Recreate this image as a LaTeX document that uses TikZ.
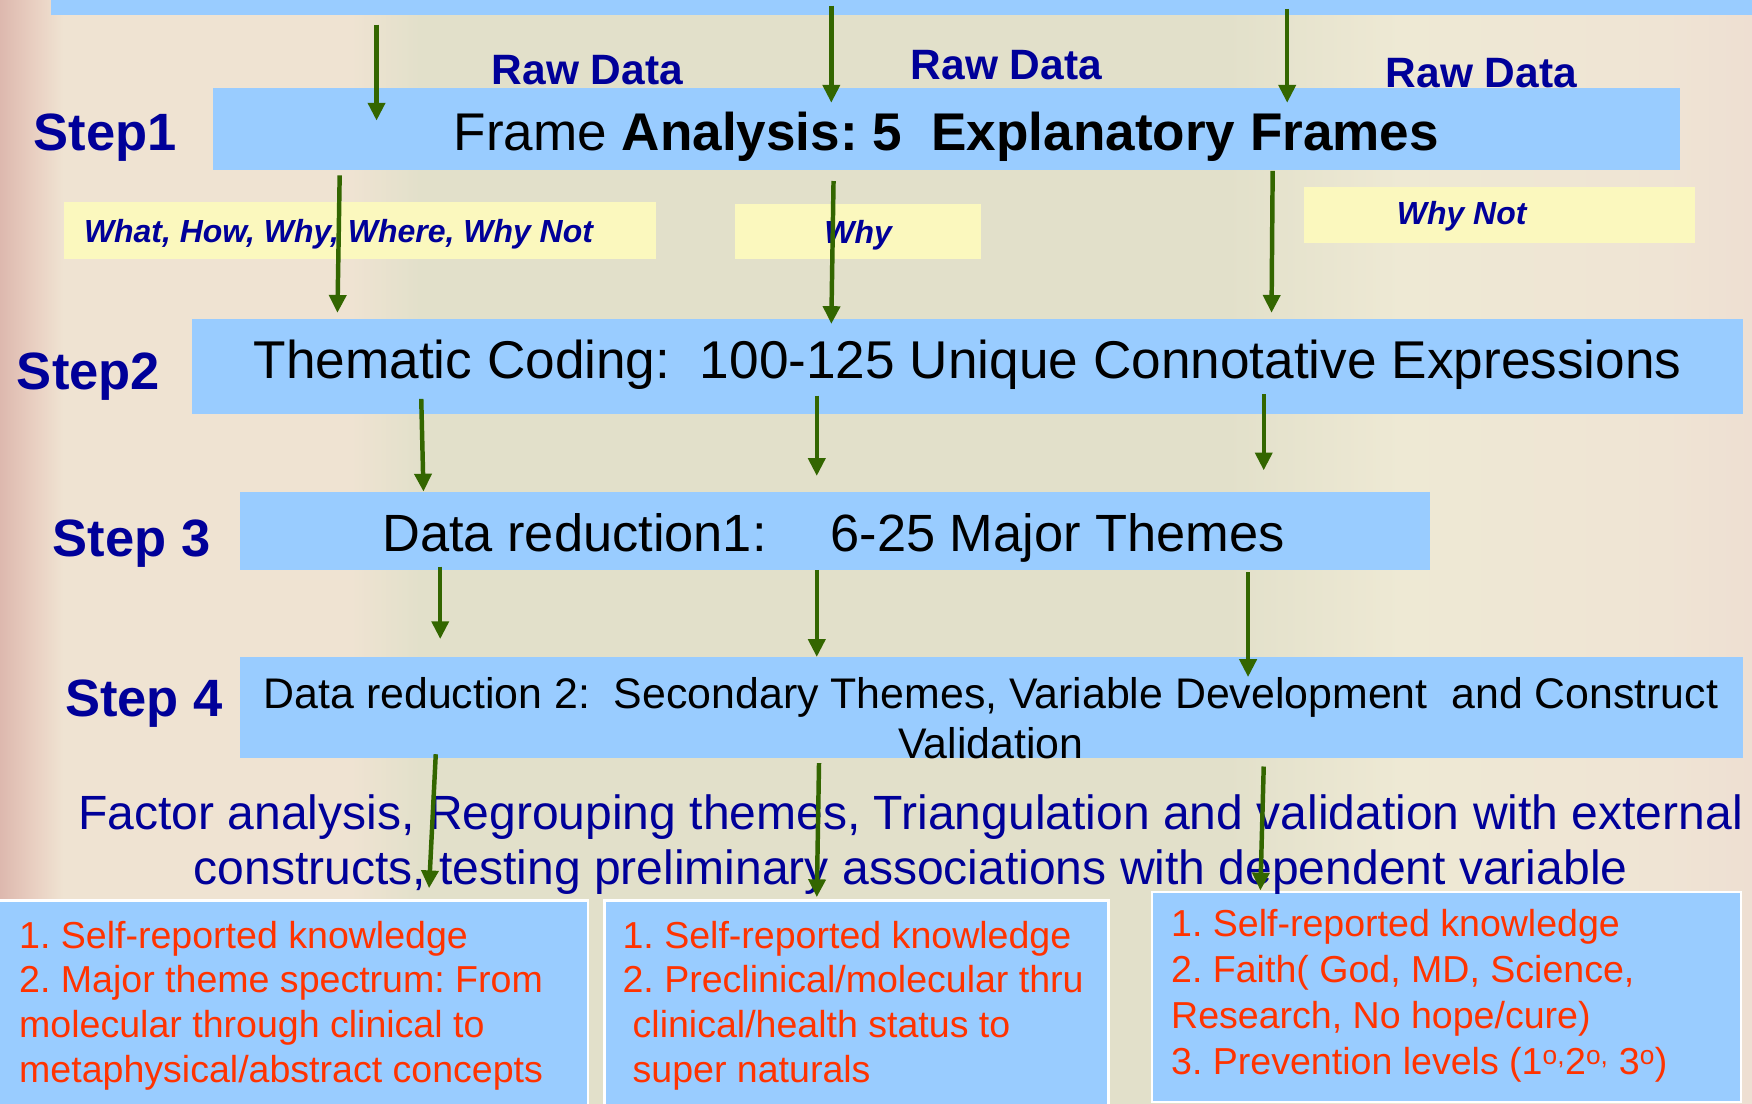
\documentclass[tikz,border=0pt]{standalone}
\usepackage{fontspec}
\setmainfont{Liberation Sans}
\usetikzlibrary{arrows.meta}
\frenchspacing
\definecolor{boxblue}{HTML}{99CCFF}
\definecolor{ylw}{HTML}{FBF8BE}
\definecolor{navy}{HTML}{000099}
\definecolor{arrowgreen}{HTML}{336600}
\definecolor{redtxt}{HTML}{FF3300}
\definecolor{bgEdge}{HTML}{DDB8AE}
\definecolor{bgPinkA}{HTML}{E9D0C2}
\definecolor{bgCream}{HTML}{EFE3D2}
\definecolor{bgGreen}{HTML}{E2E0CA}
\definecolor{bgLight}{HTML}{EEE9D4}
\definecolor{bgRight}{HTML}{EFE4D4}
\definecolor{bgFar}{HTML}{EEDFD2}
\pgfdeclarehorizontalshading{bgshade}{100bp}{color(0bp)=(bgEdge); color(25bp)=(bgEdge); color(26bp)=(bgPinkA); color(26.8bp)=(bgCream); color(35bp)=(bgCream); color(37bp)=(bgGreen); color(60bp)=(bgGreen); color(65bp)=(bgLight); color(72.5bp)=(bgRight); color(75bp)=(bgFar); color(100bp)=(bgFar)}
\newcommand{\fsz}[2]{\fontsize{#1pt}{#2pt}\selectfont}
\begin{document}
\begin{tikzpicture}[x=1pt,y=-1pt,
  bluebox/.style={fill=boxblue, draw=none, inner sep=0pt, anchor=north west},
  ybox/.style={fill=ylw, draw=none, inner sep=0pt, anchor=north west},
  rbox/.style={fill=boxblue, draw=white, line width=2pt, inner sep=0pt, anchor=north west},
  steplbl/.style={text=navy, font=\fsz{47}{54}\bfseries, inner sep=0pt, anchor=base west},
  rawlbl/.style={text=navy, font=\fsz{38}{44}\bfseries, inner sep=0pt, anchor=base west},
  ylbl/.style={text=navy, font=\fsz{28.6}{33}\bfseries\itshape, inner sep=0pt, anchor=base west},
  boxtxt/.style={text=black, inner sep=0pt, anchor=base},
  redlist/.style={text=redtxt, font=\fsz{33.6}{40}, inner sep=0pt, anchor=north west, align=left},
  flow/.style={draw=arrowgreen, line width=4pt, -{Triangle[width=15pt,length=16pt]}}
]
\clip (0,0) rectangle (1568,988);
% background
\shade[shading=bgshade] (0,0) rectangle (1568,988);

% top bar and step boxes
\node[bluebox, minimum width=1523pt, minimum height=13pt] (topbar) at (45,0) {};
\node[bluebox, minimum width=1313pt, minimum height=73pt] (s1box) at (190,79) {};
\node[bluebox, minimum width=1388pt, minimum height=85pt] (s2box) at (172,285) {};
\node[bluebox, minimum width=1065pt, minimum height=70pt] (s3box) at (215,440) {};
\node[bluebox, minimum width=1345pt, minimum height=90pt] (s4box) at (215,588) {};

% yellow boxes
\node[ybox, minimum width=530pt, minimum height=51pt] (y1) at (57,181) {};
\node[ybox, minimum width=220pt, minimum height=50pt] (y2) at (658,182) {};
\node[ybox, minimum width=350pt, minimum height=50pt] (y3) at (1167,167) {};

% bottom boxes
\node[rbox, minimum width=528pt, minimum height=195pt] (b1) at (-3,805) {};
\node[rbox, minimum width=451pt, minimum height=190pt] (b2) at (540,805) {};
\node[rbox, minimum width=527pt, minimum height=188pt] (b3) at (1030,797) {};

% step labels
\node[steplbl] (l1) at (30,135) {Step1};
\node[steplbl] (l2) at (15,349) {Step2};
\node[steplbl] (l3) at (47,498) {Step 3};
\node[steplbl] (l4) at (58,641) {Step 4};

% raw data labels
\node[rawlbl] (r1) at (440,76) {Raw Data};
\node[rawlbl] (r2) at (815,71) {Raw Data};
\node[rawlbl] (r3) at (1240,78) {Raw Data};

% box texts
\node[boxtxt, font=\fsz{47.5}{55}] (t1) at (847,135) {Frame \textbf{Analysis: 5\ \ Explanatory Frames}};
\node[boxtxt, font=\fsz{47.6}{55}] (t2) at (866,339) {Thematic Coding:\ \ 100-125 Unique Connotative Expressions};
\node[boxtxt, font=\fsz{46.9}{55}] (t3) at (746,494) {Data reduction1:\hspace{57pt}6-25 Major Themes};
\node[text=black, inner sep=0pt, anchor=north, align=center, font=\fsz{38.35}{45}] (t4) at (887,606)
  {Data reduction 2:\ \ Secondary Themes, Variable Development\ \ and Construct\\Validation};

% yellow labels
\node[ylbl] (q1) at (75,217) {What, How, Why, Where, Why Not};
\node[ylbl, anchor=base] (q2) at (768,218) {Why};
\node[ylbl] (q3) at (1250,201) {Why Not};

% factor analysis text
\node[text=navy, inner sep=0pt, anchor=north, align=center, font=\fsz{43}{49}] (fa) at (815,711)
  {Factor analysis, Regrouping themes, Triangulation and validation with external\\constructs, testing preliminary associations with dependent variable};

% red lists
\node[redlist] (rl1) at (17,824) {1. Self-reported knowledge\\2. Major theme spectrum: From\\molecular through clinical to\\metaphysical/abstract concepts};
\node[redlist] (rl2) at (557,824) {1. Self-reported knowledge\\2. Preclinical/molecular thru\\\hspace*{9pt}clinical/health status to\\\hspace*{9pt}super naturals};
\node[redlist, font=\fsz{33.6}{41}] (rl3) at (1048,814) {1. Self-reported knowledge\\2. Faith( God, MD, Science,\\Research, No hope/cure)\\3. Prevention levels (1\textsuperscript{o,}2\textsuperscript{o,} 3\textsuperscript{o})};

% arrow end points
\coordinate (a1s) at (337,22);   \coordinate (a1e) at (337,108);
\coordinate (a2s) at (744,5);    \coordinate (a2e) at (744,92);
\coordinate (a3s) at (1152,8);   \coordinate (a3e) at (1152,92);
\coordinate (b1s) at (304,157);  \coordinate (b1e) at (302,280);
\coordinate (b2s) at (746,162);  \coordinate (b2e) at (744,290);
\coordinate (b3s) at (1139,153); \coordinate (b3e) at (1138,280);
\coordinate (c1s) at (377,357);  \coordinate (c1e) at (379,440);
\coordinate (c2s) at (731,354);  \coordinate (c2e) at (731,426);
\coordinate (c3s) at (1131,353); \coordinate (c3e) at (1131,421);
\coordinate (d1s) at (394,507);  \coordinate (d1e) at (394,572);
\coordinate (d2s) at (731,510);  \coordinate (d2e) at (731,588);
\coordinate (d3s) at (1117,512); \coordinate (d3e) at (1117,606);
\coordinate (e1s) at (390,675);  \coordinate (e1e) at (384,795);
\coordinate (e2s) at (733,683);  \coordinate (e2e) at (731,803);
\coordinate (e3s) at (1131,686); \coordinate (e3e) at (1128,797);

\foreach \r in {a,b,c,d,e}{
  \foreach \i in {1,2,3}{
    \draw[flow] (\r\i s) -- (\r\i e);
  }
}
\end{tikzpicture}
\end{document}
